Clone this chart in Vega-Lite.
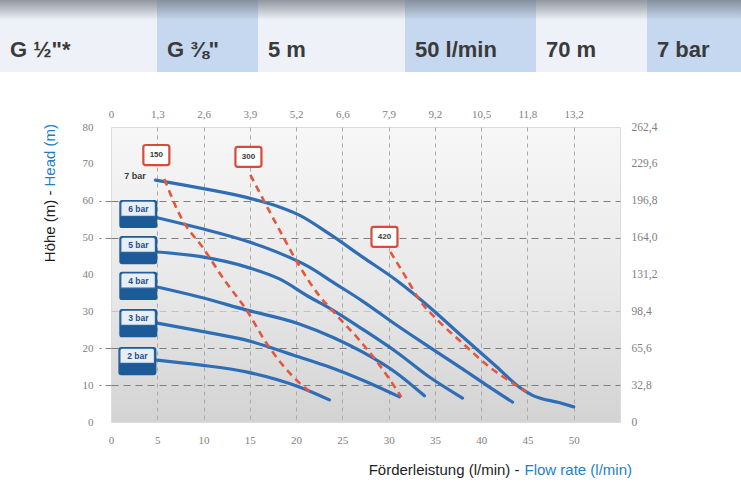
{
  "$schema": "https://vega.github.io/schema/vega-lite/v6.json",
  "padding": 0,
  "autosize": {"type": "pad"},
  "background": "white",
  "config": {"view": {"stroke": null}, "font": "Liberation Sans"},
  "spacing": 55,
  "center": true,
  "bounds": "flush",
  "datasets": {
    "header": [
      {"label": "G ½\"*", "x0": 0, "x1": 157, "shade": "light"},
      {"label": "G ⅜\"", "x0": 157, "x1": 258, "shade": "blue"},
      {"label": "5 m", "x0": 258, "x1": 405, "shade": "light"},
      {"label": "50 l/min", "x0": 405, "x1": 536, "shade": "blue"},
      {"label": "70 m", "x0": 536, "x1": 647, "shade": "light"},
      {"label": "7 bar", "x0": 647, "x1": 741, "shade": "blue"}
    ],
    "curves": [
      {"bar": "7 bar", "q": 4.8, "h": 65.6}, {"bar": "7 bar", "q": 9.55, "h": 63.5}, {"bar": "7 bar", "q": 14.95, "h": 60.7}, {"bar": "7 bar", "q": 18.2, "h": 58.3}, {"bar": "7 bar", "q": 20.35, "h": 56.1}, {"bar": "7 bar", "q": 23.6, "h": 51.0}, {"bar": "7 bar", "q": 27.2, "h": 44.7}, {"bar": "7 bar", "q": 30.8, "h": 38.5}, {"bar": "7 bar", "q": 34.4, "h": 31.2}, {"bar": "7 bar", "q": 38.0, "h": 23.1}, {"bar": "7 bar", "q": 41.7, "h": 14.9}, {"bar": "7 bar", "q": 44.1, "h": 9.5}, {"bar": "7 bar", "q": 45.5, "h": 7.3}, {"bar": "7 bar", "q": 48.5, "h": 5.2}, {"bar": "7 bar", "q": 50.0, "h": 4.1},
      {"bar": "6 bar", "q": 5.0, "h": 55.4}, {"bar": "6 bar", "q": 9.55, "h": 52.6}, {"bar": "6 bar", "q": 14.95, "h": 48.8}, {"bar": "6 bar", "q": 18.2, "h": 45.8}, {"bar": "6 bar", "q": 21.44, "h": 42.0}, {"bar": "6 bar", "q": 23.93, "h": 38.0}, {"bar": "6 bar", "q": 27.17, "h": 32.8}, {"bar": "6 bar", "q": 30.84, "h": 26.3}, {"bar": "6 bar", "q": 34.41, "h": 20.3}, {"bar": "6 bar", "q": 37.98, "h": 14.4}, {"bar": "6 bar", "q": 40.57, "h": 10.0}, {"bar": "6 bar", "q": 43.38, "h": 5.4},
      {"bar": "5 bar", "q": 5.0, "h": 46.1}, {"bar": "5 bar", "q": 9.55, "h": 44.9}, {"bar": "5 bar", "q": 14.95, "h": 41.8}, {"bar": "5 bar", "q": 18.2, "h": 38.8}, {"bar": "5 bar", "q": 21.44, "h": 33.9}, {"bar": "5 bar", "q": 23.6, "h": 30.9}, {"bar": "5 bar", "q": 27.17, "h": 25.2}, {"bar": "5 bar", "q": 30.84, "h": 19.0}, {"bar": "5 bar", "q": 34.4, "h": 12.2}, {"bar": "5 bar", "q": 37.98, "h": 6.5},
      {"bar": "4 bar", "q": 5.0, "h": 36.6}, {"bar": "4 bar", "q": 9.55, "h": 33.9}, {"bar": "4 bar", "q": 14.6, "h": 30.4}, {"bar": "4 bar", "q": 20.35, "h": 26.6}, {"bar": "4 bar", "q": 24.13, "h": 22.8}, {"bar": "4 bar", "q": 27.16, "h": 19.0}, {"bar": "4 bar", "q": 30.84, "h": 13.3}, {"bar": "4 bar", "q": 33.87, "h": 7.1},
      {"bar": "3 bar", "q": 5.0, "h": 26.8}, {"bar": "3 bar", "q": 9.55, "h": 24.7}, {"bar": "3 bar", "q": 14.6, "h": 22.2}, {"bar": "3 bar", "q": 20.35, "h": 17.6}, {"bar": "3 bar", "q": 23.6, "h": 14.9}, {"bar": "3 bar", "q": 27.4, "h": 11.1}, {"bar": "3 bar", "q": 31.17, "h": 6.8},
      {"bar": "2 bar", "q": 5.0, "h": 16.8}, {"bar": "2 bar", "q": 9.55, "h": 15.5}, {"bar": "2 bar", "q": 14.6, "h": 13.6}, {"bar": "2 bar", "q": 20.35, "h": 9.5}, {"bar": "2 bar", "q": 23.6, "h": 6.0}
    ],
    "power": [
      {"kw": "150", "q": 5.76, "h": 65.9}, {"kw": "150", "q": 7.71, "h": 54.8}, {"kw": "150", "q": 9.87, "h": 47.5}, {"kw": "150", "q": 12.25, "h": 38.5}, {"kw": "150", "q": 14.63, "h": 30.4}, {"kw": "150", "q": 16.79, "h": 21.4}, {"kw": "150", "q": 20.36, "h": 10.6}, {"kw": "150", "q": 21.65, "h": 7.9},
      {"kw": "300", "q": 15.06, "h": 67.0}, {"kw": "300", "q": 18.2, "h": 52.1}, {"kw": "300", "q": 20.36, "h": 42.3}, {"kw": "300", "q": 22.52, "h": 34.2}, {"kw": "300", "q": 24.14, "h": 29.6}, {"kw": "300", "q": 26.84, "h": 22.2}, {"kw": "300", "q": 29.0, "h": 15.5}, {"kw": "300", "q": 31.38, "h": 6.8},
      {"kw": "420", "q": 30.19, "h": 46.1}, {"kw": "420", "q": 31.71, "h": 39.9}, {"kw": "420", "q": 33.33, "h": 33.1}, {"kw": "420", "q": 35.5, "h": 27.1}, {"kw": "420", "q": 37.98, "h": 21.4}, {"kw": "420", "q": 40.9, "h": 14.9}, {"kw": "420", "q": 43.06, "h": 11.1}, {"kw": "420", "q": 44.9, "h": 8.1}
    ],
    "barlabels": [
      {"label": "6 bar", "q": 2.95, "h": 56.4},
      {"label": "5 bar", "q": 2.95, "h": 46.6},
      {"label": "4 bar", "q": 2.95, "h": 36.9},
      {"label": "3 bar", "q": 2.95, "h": 26.8},
      {"label": "2 bar", "q": 2.85, "h": 16.5}
    ],
    "powerlabels": [
      {"label": "150", "q": 4.9, "h": 72.4},
      {"label": "300", "q": 14.85, "h": 71.9},
      {"label": "420", "q": 29.55, "h": 50.2}
    ]
  },
  "vconcat": [
    {
      "width": 731,
      "height": 72,
      "layer": [
        {
          "data": {"name": "header"},
          "mark": {"type": "rect"},
          "encoding": {
            "x": {"field": "x0", "type": "quantitative", "scale": {"domain": [0, 731], "nice": false, "zero": false}, "axis": null},
            "x2": {"field": "x1"},
            "y": {"value": 0},
            "y2": {"value": "height"},
            "color": {"field": "shade", "type": "nominal", "scale": {"domain": ["light", "blue"], "range": ["#eef2f8", "#c6d8ef"]}, "legend": null}
          }
        },
        {
          "data": {"values": [{}]},
          "mark": {"type": "rect", "color": {"gradient": "linear", "x1": 0, "y1": 0, "x2": 0, "y2": 1, "stops": [{"offset": 0, "color": "rgba(105,112,122,0.7)"}, {"offset": 1, "color": "rgba(105,112,122,0)"}]}},
          "encoding": {
            "x": {"datum": 0, "type": "quantitative"},
            "x2": {"datum": 741},
            "y": {"value": 0},
            "y2": {"value": 20}
          }
        },
        {
          "data": {"name": "header"},
          "mark": {"type": "text", "align": "left", "baseline": "alphabetic", "dx": 10, "dy": -15, "fontSize": 22, "fontWeight": "bold", "color": "#3a3a3a", "font": "Liberation Sans"},
          "encoding": {
            "x": {"field": "x0", "type": "quantitative"},
            "y": {"value": "height"},
            "text": {"field": "label"}
          }
        }
      ]
    },
    {
      "width": 509,
      "height": 295,
      "view": {"stroke": "#dcdcdc", "fill": {"gradient": "linear", "x1": 0, "y1": 0, "x2": 0, "y2": 1, "stops": [{"offset": 0, "color": "#f7f7f7"}, {"offset": 0.55, "color": "#e8e8e8"}, {"offset": 1, "color": "#d3d3d3"}]}},
      "resolve": {"axis": {"x": "independent", "y": "independent"}},
      "layer": [
        {
          "data": {"name": "curves"},
          "mark": {"type": "line", "interpolate": "monotone", "color": "#2f6db5", "strokeWidth": 3.2, "strokeCap": "round"},
          "encoding": {
            "x": {
              "field": "q", "type": "quantitative",
              "scale": {"domain": [0, 55], "nice": false, "zero": false},
              "axis": {
                "orient": "bottom", "values": [0, 5, 10, 15, 20, 25, 30, 35, 40, 45, 50],
                "domain": false, "ticks": false, "labelPadding": 12, "labelFlush": false, "labelOverlap": false,
                "labelColor": "#808080", "labelFontSize": 11, "labelFont": "Liberation Sans Narrow",
                "grid": true, "gridDash": [4, 4], "gridWidth": 1,
                "gridColor": {"condition": {"test": "datum.value == 0", "value": "rgba(0,0,0,0)"}, "value": "#a9a9a9"},
                "title": "Förderleistung (l/min) -", "titleFont": "Liberation Sans", "titleFontSize": 15, "titleFontWeight": "normal",
                "titleColor": "#1e1e1e", "titleAlign": "right", "titleBaseline": "alphabetic", "titleX": 408, "titleY": 52, "titleAngle": 0
              }
            },
            "y": {
              "field": "h", "type": "quantitative",
              "scale": {"domain": [0, 80], "nice": false, "zero": false},
              "axis": {
                "orient": "left", "values": [0, 10, 20, 30, 40, 50, 60, 70, 80],
                "domain": false, "ticks": true, "tickSize": 12, "tickDash": [6, 4],
                "tickColor": {"condition": {"test": "indexof([10,20,50,60], datum.value) >= 0", "value": "#7f7f7f"}, "value": "rgba(0,0,0,0)"},
                "labelPadding": 6, "labelColor": "#808080", "labelFontSize": 11, "labelFont": "Liberation Sans Narrow",
                "grid": true, "gridDash": [7, 5], "gridWidth": 1.1,
                "gridColor": {"condition": [{"test": "indexof([10,20,50,60], datum.value) >= 0", "value": "#7f7f7f"}, {"test": "datum.value == 30", "value": "#c2c2c2"}], "value": "rgba(0,0,0,0)"},
                "title": "Höhe (m) -", "titleFont": "Liberation Sans", "titleFontSize": 15, "titleFontWeight": "normal",
                "titleColor": "#1e1e1e", "titleAlign": "right", "titleBaseline": "alphabetic", "titleAngle": -90, "titleX": -57, "titleY": 63
              }
            },
            "detail": {"field": "bar"}
          }
        },
        {
          "data": {"name": "power"},
          "mark": {"type": "line", "interpolate": "monotone", "color": "#e4573f", "strokeWidth": 2.6, "strokeDash": [7, 5]},
          "encoding": {
            "x": {
              "field": "q", "type": "quantitative",
              "axis": {
                "orient": "top", "values": [0, 5, 10, 15, 20, 25, 30, 35, 40, 45, 50],
                "labelExpr": "datum.value == 0 ? '0' : replace(format(floor(datum.value * 2.64172) / 10, '.1f'), '.', ',')",
                "domain": false, "ticks": false, "grid": false, "labelPadding": 8, "labelFlush": false, "labelOverlap": false,
                "labelColor": "#808080", "labelFontSize": 11, "labelFont": "Liberation Sans Narrow", "title": null
              }
            },
            "y": {
              "field": "h", "type": "quantitative",
              "axis": {
                "orient": "right", "values": [0, 10, 20, 30, 40, 50, 60, 70, 80],
                "labelExpr": "datum.value == 0 ? '0' : replace(format(datum.value * 3.28, '.1f'), '.', ',')",
                "domain": false, "ticks": false, "grid": false, "labelPadding": 11,
                "labelColor": "#808080", "labelFontSize": 11.5, "labelFont": "Liberation Sans Narrow", "title": null
              }
            },
            "detail": {"field": "kw"}
          }
        },
        {
          "data": {"name": "barlabels"},
          "mark": {"type": "point", "shape": "M-0.85,-0.74 L0.85,-0.74 Q1,-0.74 1,-0.59 L1,0.59 Q1,0.74 0.85,0.74 L-0.85,0.74 Q-1,0.74 -1,0.59 L-1,-0.59 Q-1,-0.74 -0.85,-0.74 Z", "size": 1444, "filled": true, "fill": "#1d5a98", "strokeWidth": 0, "opacity": 1},
          "encoding": {
            "x": {
              "field": "q", "type": "quantitative",
              "axis": {
                "orient": "bottom", "labels": false, "ticks": false, "domain": false, "grid": false,
                "title": "Flow rate (l/min)", "titleFont": "Liberation Sans", "titleFontSize": 15, "titleFontWeight": "normal",
                "titleColor": "#1f7fc6", "titleAlign": "left", "titleBaseline": "alphabetic", "titleX": 413, "titleY": 52, "titleAngle": 0
              }
            },
            "y": {
              "field": "h", "type": "quantitative",
              "axis": {
                "orient": "left", "labels": false, "ticks": false, "domain": false, "grid": false,
                "title": "Head (m)", "titleFont": "Liberation Sans", "titleFontSize": 15, "titleFontWeight": "normal",
                "titleColor": "#1f7fc6", "titleAlign": "left", "titleBaseline": "alphabetic", "titleAngle": -90, "titleX": -57, "titleY": 59
              }
            }
          }
        },
        {
          "data": {"name": "barlabels"},
          "mark": {"type": "point", "shape": "M-0.8,-0.68 L0.78,-0.68 Q0.9,-0.68 0.9,-0.56 L0.9,0.12 L-0.92,0.12 L-0.92,-0.56 Q-0.92,-0.68 -0.8,-0.68 Z", "size": 1444, "filled": true, "fill": "#e8eef6", "stroke": "#2a63a0", "strokeWidth": 1.2, "opacity": 1},
          "encoding": {
            "x": {"field": "q", "type": "quantitative", "axis": null},
            "y": {"field": "h", "type": "quantitative", "axis": null}
          }
        },
        {
          "data": {"name": "barlabels"},
          "mark": {"type": "text", "dy": -5, "fontSize": 8.5, "fontWeight": "bold", "color": "#1f4f86", "baseline": "middle"},
          "encoding": {
            "x": {"field": "q", "type": "quantitative", "axis": null},
            "y": {"field": "h", "type": "quantitative", "axis": null},
            "text": {"field": "label"}
          }
        },
        {
          "data": {"values": [{"label": "7 bar", "q": 2.6, "h": 66.6}]},
          "mark": {"type": "text", "fontSize": 9, "fontWeight": "bold", "color": "#3a3a3a", "baseline": "middle"},
          "encoding": {
            "x": {"field": "q", "type": "quantitative", "axis": null},
            "y": {"field": "h", "type": "quantitative", "axis": null},
            "text": {"field": "label"}
          }
        },
        {
          "data": {"name": "powerlabels"},
          "mark": {"type": "point", "shape": "M-0.82,-0.77 L0.82,-0.77 Q1,-0.77 1,-0.59 L1,0.59 Q1,0.77 0.82,0.77 L-0.82,0.77 Q-1,0.77 -1,0.59 L-1,-0.59 Q-1,-0.77 -0.82,-0.77 Z", "size": 676, "filled": true, "fill": "white", "stroke": "#d84b3a", "strokeWidth": 2.2, "opacity": 1},
          "encoding": {
            "x": {"field": "q", "type": "quantitative", "axis": null},
            "y": {"field": "h", "type": "quantitative", "axis": null}
          }
        },
        {
          "data": {"name": "powerlabels"},
          "mark": {"type": "text", "fontSize": 8, "fontWeight": "bold", "color": "#3a3a3a", "baseline": "middle"},
          "encoding": {
            "x": {"field": "q", "type": "quantitative", "axis": null},
            "y": {"field": "h", "type": "quantitative", "axis": null},
            "text": {"field": "label"}
          }
        }
      ]
    }
  ]
}
